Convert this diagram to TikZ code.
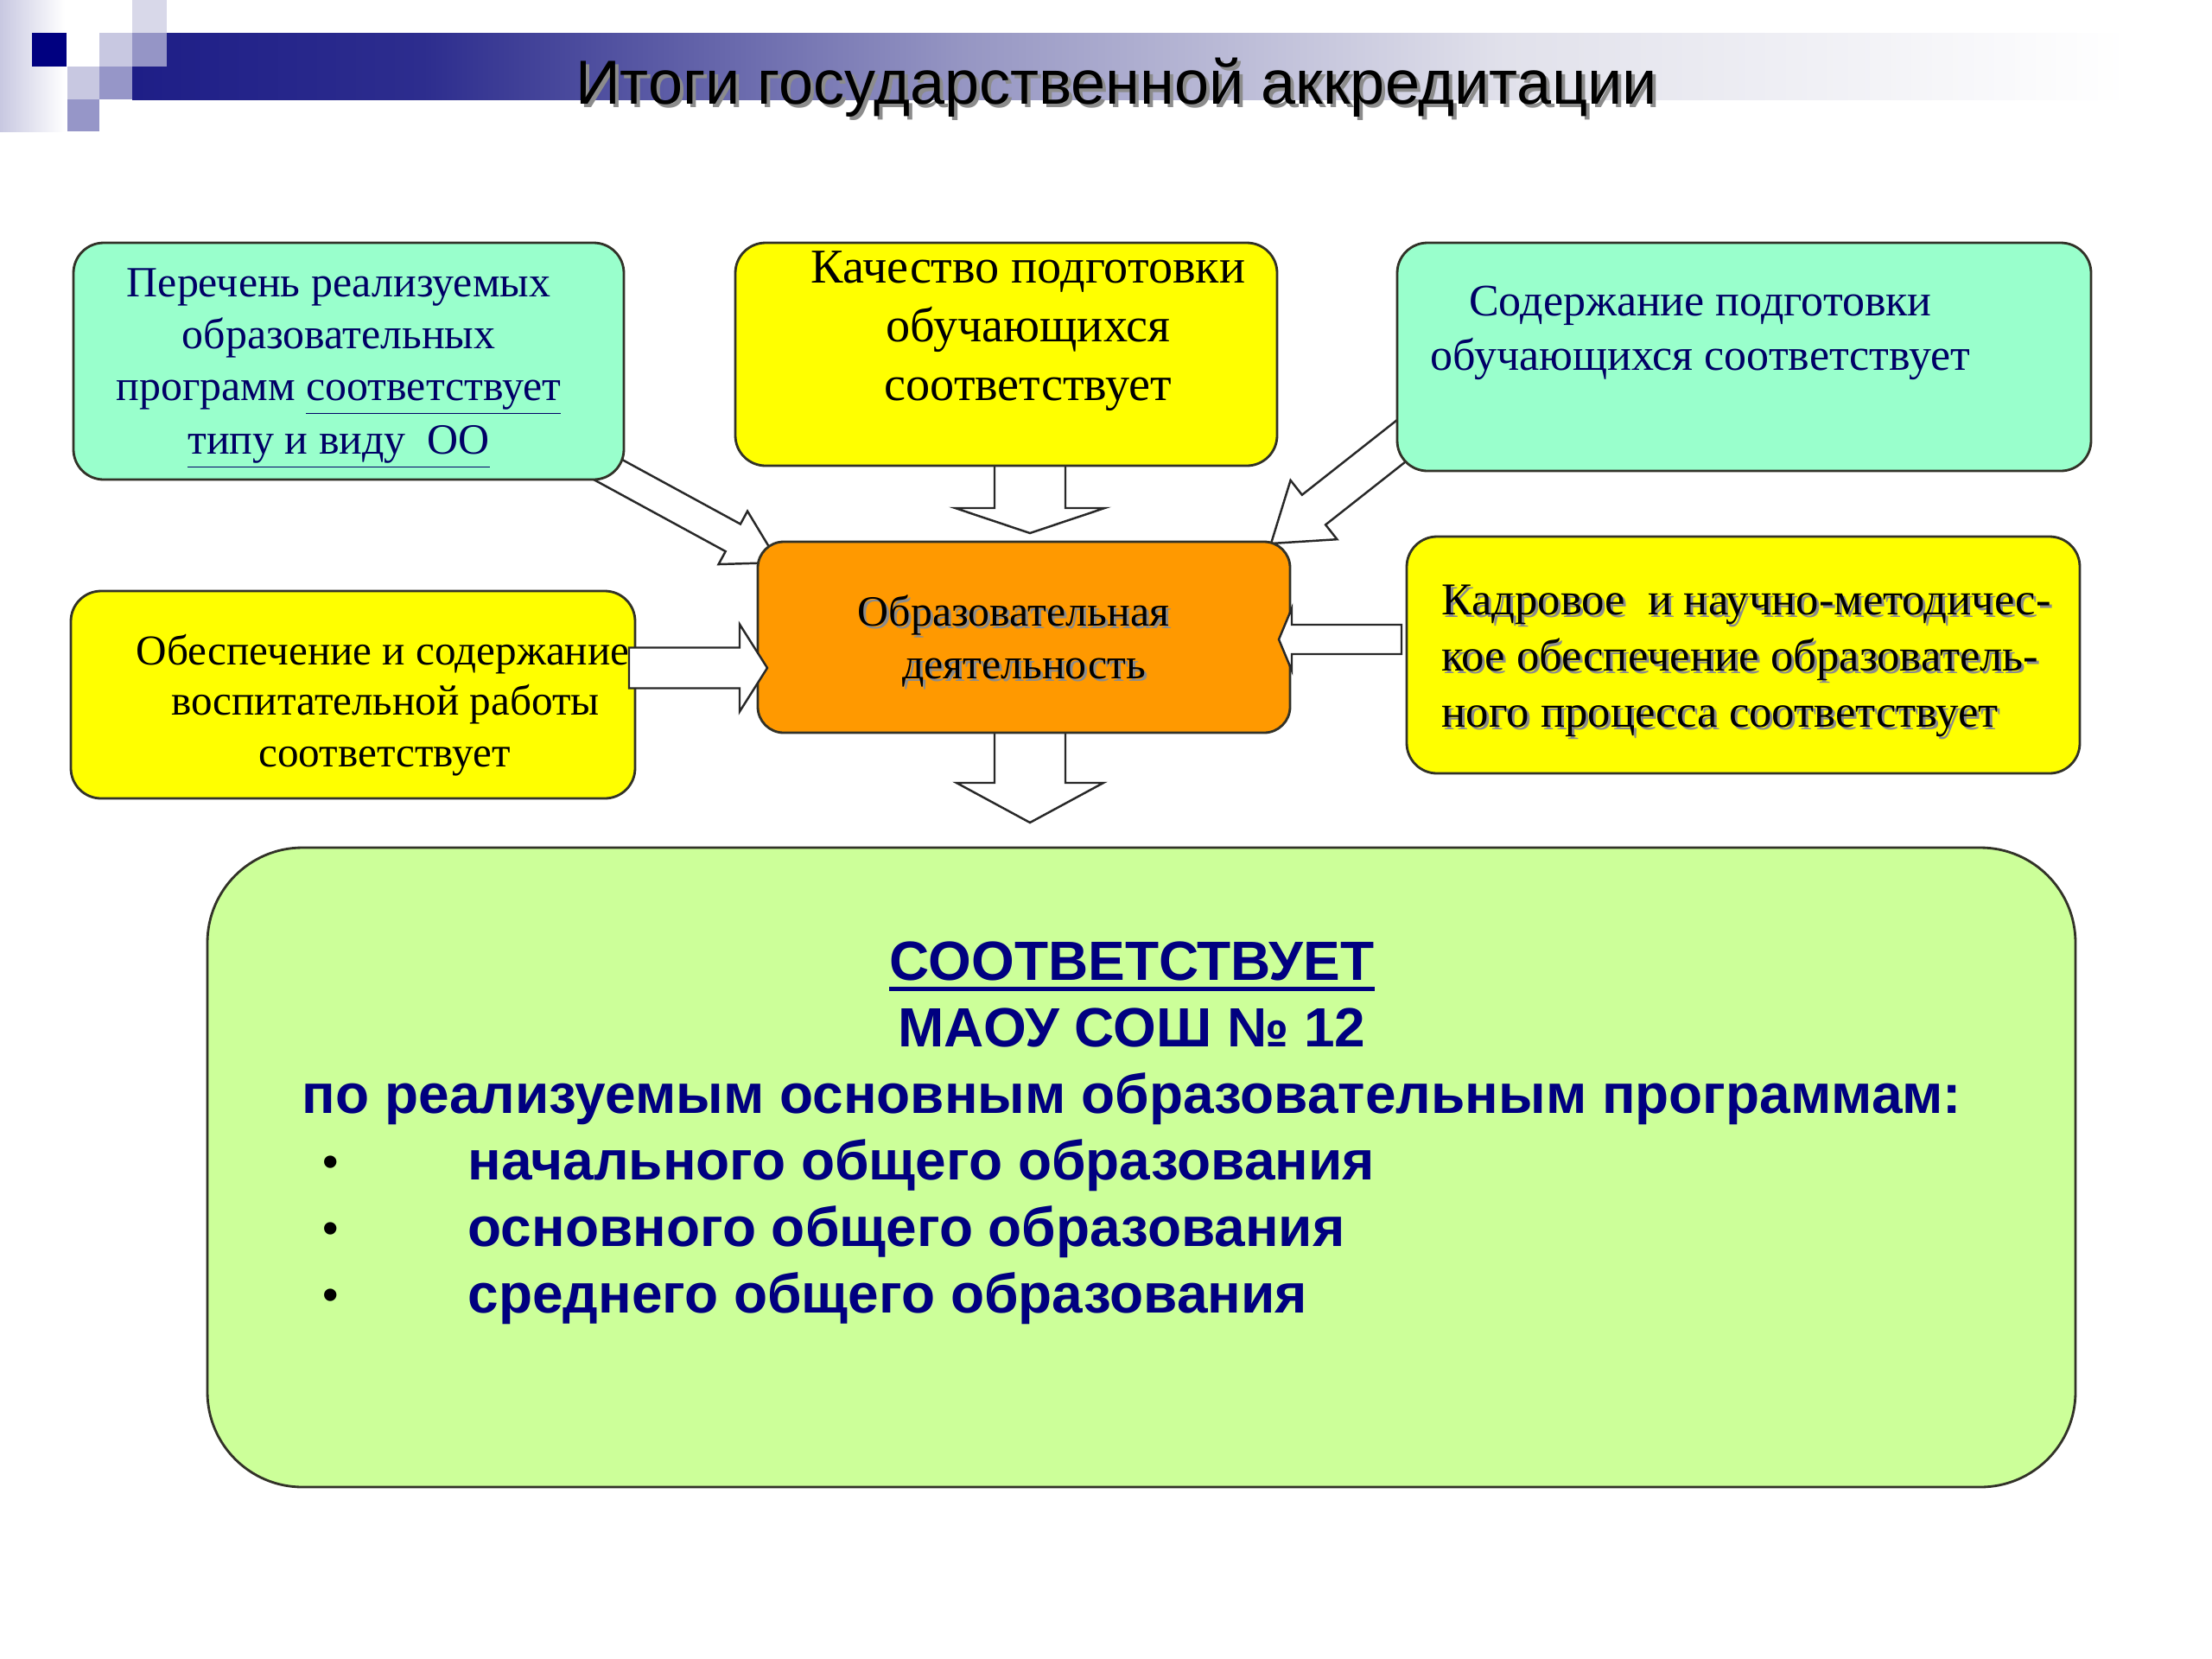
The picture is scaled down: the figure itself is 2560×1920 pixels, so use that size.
\documentclass[tikz,border=0pt]{standalone}
\usepackage{fontspec}
\usepackage{graphicx}
\setmainfont{Liberation Serif}
\newfontfamily\arialf{Liberation Sans}
\usetikzlibrary{calc}
\definecolor{navyA}{RGB}{0,0,102}
\definecolor{navyG}{RGB}{0,0,128}
\definecolor{aqua}{RGB}{153,255,204}
\definecolor{yel}{RGB}{255,255,0}
\definecolor{org}{RGB}{255,153,0}
\definecolor{lgreen}{RGB}{204,255,153}
\definecolor{boxline}{RGB}{50,50,40}
\definecolor{arrline}{RGB}{40,40,40}
\definecolor{bar0}{RGB}{30,30,135}
\definecolor{bar0b}{RGB}{45,45,142}
\definecolor{bar1}{RGB}{150,150,195}
\definecolor{bar2}{RGB}{225,225,235}
\definecolor{lav}{RGB}{200,200,225}
\definecolor{lavm}{RGB}{150,150,200}
\definecolor{sqnavy}{RGB}{0,0,128}
\definecolor{shadowc}{RGB}{140,140,140}
% visible part of a TikZ shading is 25bp..75bp
\pgfdeclarehorizontalshading{titlebar}{100bp}{color(0bp)=(bar0); color(25bp)=(bar0); color(32bp)=(bar0b); color(45bp)=(bar1); color(58bp)=(bar2); color(73bp)=(white); color(100bp)=(white)}
% block arrow: start, tip, shaft half width, head half width, head length (mm)
\newcommand\blockarr[5]{%
  \coordinate (bab) at ($(#2)!#5mm!(#1)$);
  \draw[barrow] ($(#1)!#3mm!90:(#2)$) -- ($(bab)!#3mm!90:(#2)$) -- ($(bab)!#4mm!90:(#2)$) -- (#2)
    -- ($(bab)!#4mm!-90:(#2)$) -- ($(bab)!#3mm!-90:(#2)$) -- ($(#1)!#3mm!-90:(#2)$) -- cycle;
}
\begin{document}
\begin{tikzpicture}[x=0.1mm,y=-0.1mm,
  box/.style={draw=boxline, line width=0.8pt, rounded corners=3.5mm, inner sep=0pt},
  barrow/.style={draw=arrline, fill=white, line width=0.7pt, line join=miter},
  txt/.style={inner sep=0pt, anchor=base},
  txtw/.style={inner sep=0pt, anchor=base west},
  fA/.style={font=\fontsize{14.2}{17}\selectfont, text=navyA},
  fB/.style={font=\fontsize{16}{19}\selectfont, text=black},
  fC/.style={font=\fontsize{14.8}{17}\selectfont, text=navyA},
  fD/.style={font=\fontsize{14.2}{17}\selectfont},
  fE/.style={font=\fontsize{14}{17}\selectfont, text=black},
  fF/.style={font=\fontsize{15}{18}\selectfont},
  fG/.style={font=\arialf\bfseries\fontsize{18.2}{22}\selectfont, text=navyG},
  fT/.style={font=\arialf\fontsize{20.5}{24}\selectfont}
]
\useasboundingbox (0,0) rectangle (2560,1920);
\fill[white] (0,0) rectangle (2560,1920);
% ---- header decoration
\shade[left color=lav, right color=white] (0,0) rectangle (75,152);
\shade[shading=titlebar] (153,38) rectangle (2560,115);
\fill[lav, fill opacity=0.7] (153,0) rectangle (193,77);
\fill[sqnavy] (37,38) rectangle (77,77);
\fill[lav] (115,38) rectangle (153,77);
\fill[lav] (78,77) rectangle (115,115);
\fill[lavm] (115,77) rectangle (153,115);
\fill[lavm] (78,115) rectangle (115,152);
% ---- title
\node[txt, fT, text=shadowc] (titlesh) at (1296,124) {Итоги государственной аккредитации};
\node[txt, fT, text=black] (title) at (1292,120) {Итоги государственной аккредитации};
% ---- arrow coordinates
\coordinate (adS) at (688,535);  \coordinate (adT) at (901,651);
\coordinate (cdS) at (1636,499); \coordinate (cdT) at (1471,629);
\coordinate (bdS) at (1192,530); \coordinate (bdT) at (1192,617);
\coordinate (dgS) at (1192,840); \coordinate (dgT) at (1192,952);
\coordinate (edS) at (728,773);  \coordinate (edT) at (888,773);
\coordinate (fdS) at (1622,740); \coordinate (fdT) at (1480,740);
% arrows lying under boxes
\blockarr{adS}{adT}{1.8}{3.5}{6.0}
\blockarr{cdS}{cdT}{2.2}{4.35}{6.3}
\blockarr{bdS}{bdT}{4.1}{8.65}{2.9}
\blockarr{dgS}{dgT}{4.1}{8.5}{4.6}
% ---- boxes
\node[box, fill=aqua, minimum width=63.7mm, minimum height=27.4mm] (A) at (403.5,418) {};
\node[box, fill=yel, minimum width=62.7mm, minimum height=25.8mm] (B) at (1164.5,410) {};
\node[box, fill=aqua, minimum width=80.3mm, minimum height=26.4mm] (C) at (2018.5,413) {};
\node[box, fill=org, minimum width=61.6mm, minimum height=22.1mm, rounded corners=3mm] (D) at (1185,737.5) {};
\node[box, fill=yel, minimum width=65.3mm, minimum height=24mm] (E) at (408.5,804) {};
\node[box, fill=yel, minimum width=77.9mm, minimum height=27.4mm] (F) at (2017.5,758) {};
\node[box, fill=lgreen, minimum width=216.2mm, minimum height=74mm, rounded corners=11mm] (G) at (1321,1351) {};
% ---- texts A
\node[txt, fA] (a1) at (392,343) {Перечень реализуемых};
\node[txt, fA] (a2) at (392,403) {образовательных};
\node[txt, fA] (a3) at (392,463) {программ \underline{соответствует}};
\node[txt, fA] (a4) at (392,525) {\underline{типу и виду\ \ ОО}};
% ---- texts B
\node[txt, fB] (b1) at (1190,327) {Качество подготовки};
\node[txt, fB] (b2) at (1190,395) {обучающихся};
\node[txt, fB] (b3) at (1190,463) {соответствует};
% ---- texts C
\node[txt, fC] (c1) at (1968,365) {Содержание подготовки};
\node[txt, fC] (c2) at (1968,428) {обучающихся соответствует};
% ---- texts D
\node[txt, fD, text=shadowc] (d1s) at (1176,727) {Образовательная};
\node[txt, fD, text=shadowc] (d2s) at (1188,788) {деятельность};
\node[txt, fD, text=black] (d1) at (1173,724) {Образовательная};
\node[txt, fD, text=black] (d2) at (1185,785) {деятельность};
% ---- texts E
\node[txt, fE] (e1) at (443,769) {Обеспечение и содержание};
\node[txt, fE] (e2) at (446,827) {воспитательной работы};
\node[txt, fE] (e3) at (445,887) {соответствует};
% ---- texts F
\node[txtw, fF, text=shadowc] (f1s) at (1671,714) {Кадровое\ \ и научно-методичес-};
\node[txtw, fF, text=shadowc] (f2s) at (1671,779) {кое обеспечение образователь-};
\node[txtw, fF, text=shadowc] (f3s) at (1671,844) {ного процесса соответствует};
\node[txtw, fF, text=black] (f1) at (1668,711) {Кадровое\ \ и научно-методичес-};
\node[txtw, fF, text=black] (f2) at (1668,776) {кое обеспечение образователь-};
\node[txtw, fF, text=black] (f3) at (1668,841) {ного процесса соответствует};
% ---- texts G
\node[txt, fG] (g1) at (1310,1134) {СООТВЕТСТВУЕТ};
\draw[navyG, line width=1.2pt] ([yshift=-3pt]g1.base west) -- ([yshift=-3pt]g1.base east);
\node[txt, fG] (g2) at (1310,1211) {МАОУ СОШ № 12};
\node[txt, fG] (g3) at (1310,1288) {по реализуемым основным образовательным программам:};
\node[txt, font=\arialf\fontsize{15}{17}\selectfont] (gb1) at (383,1362) {•};
\node[txt, font=\arialf\fontsize{15}{17}\selectfont] (gb2) at (383,1439) {•};
\node[txt, font=\arialf\fontsize{15}{17}\selectfont] (gb3) at (383,1516) {•};
\node[txtw, fG] (g4) at (541,1365) {начального общего образования};
\node[txtw, fG] (g5) at (541,1442) {основного общего образования};
\node[txtw, fG] (g6) at (541,1519) {среднего общего образования};
% arrows lying over boxes
\blockarr{edS}{edT}{2.35}{5.05}{3.2}
\blockarr{fdS}{fdT}{1.7}{3.6}{1.5}
\end{tikzpicture}
\end{document}
